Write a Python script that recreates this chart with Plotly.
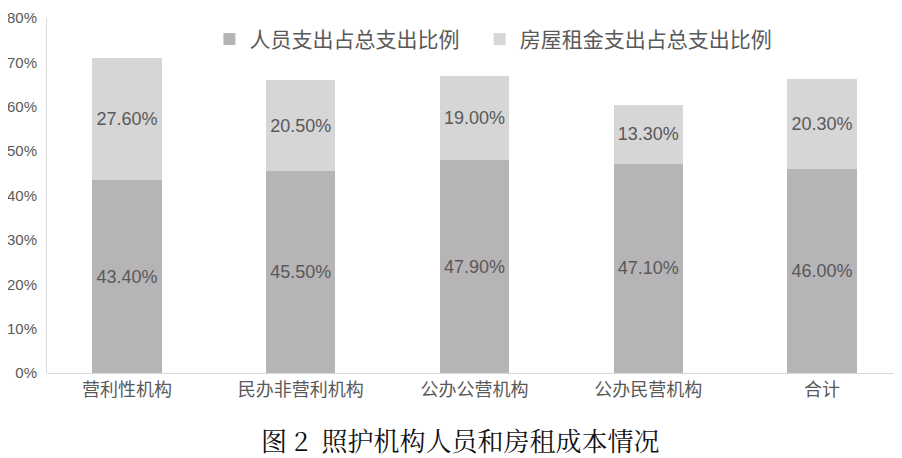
import plotly.graph_objects as go

categories = ["营利性机构", "民办非营利机构", "公办公营机构", "公办民营机构", "合计"]
staff_share = [43.4, 45.5, 47.9, 47.1, 46.0]
rent_share = [27.6, 20.5, 19.0, 13.3, 20.3]
y_ticks = [0, 10, 20, 30, 40, 50, 60, 70, 80]

TEXT_GREY = "#595959"
FONT = "Noto Sans CJK SC, Liberation Sans, sans-serif"
NUM_FONT = "Liberation Sans, sans-serif"

fig = go.Figure()

# bottom segment: staff costs, top segment: rent
fig.add_trace(go.Bar(
    x=categories,
    y=staff_share,
    name="人员支出占总支出比例",
    marker=dict(color="#b6b4b6", line=dict(width=0)),
    text=[f"{v:.2f}%" for v in staff_share],
    textposition="inside",
    insidetextanchor="middle",
    textfont=dict(color=TEXT_GREY, size=18, family=NUM_FONT),
    width=0.4,
    legend="legend",
))
fig.add_trace(go.Bar(
    x=categories,
    y=rent_share,
    name="房屋租金支出占总支出比例",
    marker=dict(color="#d6d6d6", line=dict(width=0)),
    text=[f"{v:.2f}%" for v in rent_share],
    textposition="inside",
    insidetextanchor="middle",
    textfont=dict(color=TEXT_GREY, size=18, family=NUM_FONT),
    width=0.4,
    legend="legend2",
))

legend_style = dict(
    orientation="h",
    y=0.94,
    xanchor="left",
    yanchor="middle",
    font=dict(size=21, color=TEXT_GREY, family=FONT),
    bgcolor="rgba(0,0,0,0)",
)

# the page body adds an 8px offset, so the figure is 8px smaller and margins shifted
fig.update_layout(
    barmode="stack",
    width=894,
    height=450,
    margin=dict(l=39, r=0, t=10, b=85),
    paper_bgcolor="white",
    plot_bgcolor="white",
    font=dict(family=FONT, color=TEXT_GREY),
    showlegend=True,
    legend=dict(x=0.19, **legend_style),
    legend2=dict(x=0.506, **legend_style),
    xaxis=dict(
        range=[-0.46, 4.46],
        showline=False,
        ticks="",
        ticklabelstandoff=4,
        automargin=False,
        tickfont=dict(size=18, color=TEXT_GREY, family=FONT),
    ),
    yaxis=dict(
        range=[0, 80],
        tickvals=y_ticks,
        ticktext=[f"{v}%" for v in y_ticks],
        showgrid=False,
        showline=True,
        linecolor="#d9d9d9",
        linewidth=1,
        zeroline=True,
        zerolinecolor="#d9d9d9",
        zerolinewidth=1,
        ticks="",
        ticklabelstandoff=6,
        automargin=False,
        tickfont=dict(size=15, color=TEXT_GREY, family=NUM_FONT),
    ),
    annotations=[dict(
        text="图 2  照护机构人员和房租成本情况",
        xref="paper",
        yref="paper",
        x=0.483,
        y=-0.186,
        xanchor="center",
        yanchor="middle",
        showarrow=False,
        font=dict(size=26, color="#111111", family="Noto Serif CJK SC, Liberation Serif, serif"),
    )],
)

fig.write_html("out.html")
